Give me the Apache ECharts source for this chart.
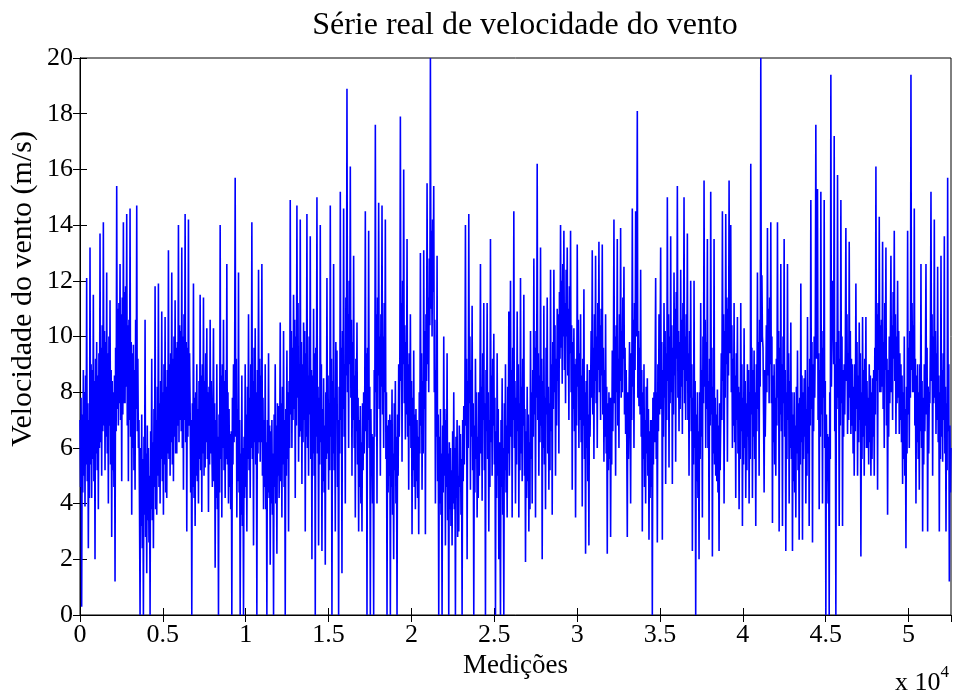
<!DOCTYPE html>
<html>
<head>
<meta charset="utf-8">
<script src="https://cdn.jsdelivr.net/npm/echarts@6/dist/echarts.min.js"></script>
<style>
  html, body { margin: 0; padding: 0; background: #fff; }
  #main { width: 956px; height: 696px; }
</style>
</head>
<body>
<div id="main"></div>
<script>
const chartDom = document.getElementById("main");
const myChart = echarts.init(chartDom);

// total number of measurements (x axis extent)
const X_MAX = 52560;
const xTickStep = 5000;
const Y_MIN = 0;
const Y_MAX = 20;
const yTickStep = 2;

// wind speed (m/s), read off the picture, evenly spaced over the measurements
// (one row = roughly 600 measurements)
const speed = [
    7.0, 4.6, 7.8, 0.3, 7.2, 4.4, 8.8, 5.0, 8.0, 3.9, 8.6, 5.4, 12.1, 4.8, 7.6, 2.4, 7.0, 4.2,
    13.2, 5.4, 9.0, 4.2, 8.8, 5.6, 11.5, 4.8, 8.4, 2.0, 9.2, 5.8, 9.8, 5.2, 8.6, 3.8, 9.4, 6.0,
    13.7, 6.2, 9.6, 5.0, 10.4, 6.6, 14.1, 6.8, 10.2, 5.2, 9.8, 6.4, 12.3, 5.8, 9.4, 4.0, 10.0, 6.8,
    11.3, 5.4, 8.8, 2.8, 8.4, 5.2, 8.0, 4.6, 8.6, 1.2, 9.6, 6.6, 15.4, 7.4, 11.0, 6.8, 11.2, 7.6,
    12.6, 7.0, 10.8, 4.8, 11.4, 7.2, 14.1, 7.6, 11.6, 7.6, 11.8, 8.2, 14.4, 6.8, 10.4, 4.8, 10.6, 7.0,
    14.6, 6.4, 9.8, 3.6, 9.4, 6.0, 9.7, 5.2, 8.8, 4.5, 10.6, 7.4, 14.7, 6.6, 9.2, 6.0, 7.0, 3.8,
    0.0, 6.0, 3.2, 7.2, 2.4, 5.6, 0.0, 6.4, 3.6, 10.6, 2.8, 5.8, 1.5, 6.8, 3.4, 6.0, 2.6, 5.0,
    0.0, 6.6, 3.8, 9.2, 3.4, 6.2, 2.4, 7.4, 4.6, 11.8, 3.8, 7.0, 3.6, 8.2, 5.0, 11.9, 4.6, 7.6,
    4.0, 8.4, 5.6, 10.9, 4.8, 8.0, 3.6, 9.0, 5.4, 10.7, 4.4, 8.2, 4.2, 8.8, 5.8, 13.1, 5.6, 9.0,
    5.0, 9.4, 6.2, 12.3, 5.4, 9.2, 4.8, 10.0, 6.4, 11.3, 5.8, 9.6, 5.8, 9.8, 6.8, 14.0, 6.2, 10.4,
    7.0, 10.2, 6.6, 13.2, 6.0, 10.0, 4.5, 10.8, 7.0, 14.4, 6.2, 9.8, 3.0, 9.6, 6.4, 14.2, 6.8, 9.4,
    7.5, 4.4, 7.0, 0.0, 7.6, 4.6, 11.9, 4.2, 7.8, 3.2, 8.0, 5.0, 9.0, 4.8, 7.4, 4.0, 8.4, 5.6,
    11.5, 5.2, 8.6, 3.7, 9.0, 5.8, 11.4, 5.0, 8.4, 5.3, 9.4, 6.2, 10.3, 5.6, 8.0, 3.7, 8.2, 5.4,
    10.6, 5.8, 8.4, 6.2, 4.6, 7.2, 10.3, 4.8, 7.6, 1.7, 7.0, 4.2, 9.0, 3.8, 6.4, 0.0, 7.2, 4.4,
    14.0, 5.6, 8.6, 3.5, 9.0, 6.0, 10.6, 5.2, 8.4, 4.2, 8.8, 5.6, 12.6, 5.4, 8.0, 4.0, 7.4, 4.6,
    6.5, 3.8, 6.6, 0.0, 7.8, 5.4, 9.0, 6.2, 8.6, 15.7, 6.4, 9.2, 3.5, 7.4, 4.8, 12.3, 4.4, 7.0,
    0.0, 5.8, 3.6, 8.6, 3.2, 6.0, 0.0, 6.4, 4.2, 9.0, 4.6, 7.2, 3.0, 8.2, 5.6, 10.8, 5.2, 7.8,
    4.2, 9.0, 6.0, 14.1, 5.6, 8.4, 2.5, 9.6, 6.2, 10.3, 5.4, 8.0, 0.0, 8.8, 5.8, 12.4, 6.2, 9.2,
    5.5, 8.6, 6.2, 12.6, 5.0, 7.8, 3.8, 7.0, 4.6, 9.0, 3.8, 6.2, 0.0, 7.0, 4.4, 9.4, 4.2, 6.8,
    1.8, 6.6, 4.0, 7.0, 3.6, 5.8, 0.0, 7.2, 4.6, 9.0, 4.0, 6.8, 2.2, 7.6, 5.0, 7.5, 4.2, 6.0,
    10.5, 4.8, 7.6, 3.5, 8.2, 5.4, 10.2, 4.6, 7.0, 0.0, 7.4, 5.0, 9.5, 5.6, 8.0, 3.0, 8.4, 6.0,
    14.9, 7.2, 10.2, 6.0, 9.6, 7.0, 11.5, 7.4, 10.6, 4.2, 10.0, 6.8, 14.7, 7.8, 11.2, 5.5, 9.0, 6.4,
    14.2, 6.6, 9.8, 4.7, 9.0, 6.2, 10.5, 7.0, 10.2, 3.0, 9.4, 6.4, 14.4, 6.0, 8.6, 5.0, 10.0, 7.2,
    13.6, 5.6, 8.8, 2.0, 8.6, 5.8, 11.0, 5.0, 9.4, 0.0, 9.6, 6.4, 15.0, 5.8, 8.2, 2.5, 7.8, 5.4,
    14.0, 6.2, 9.0, 2.3, 7.4, 4.8, 8.5, 4.4, 6.8, 1.8, 8.0, 5.6, 12.1, 5.8, 8.6, 4.5, 7.6, 5.2,
    14.7, 6.4, 9.2, 0.0, 8.4, 5.8, 12.6, 5.2, 7.8, 3.0, 9.8, 7.0, 9.5, 4.6, 7.0, 0.0, 8.2, 5.8,
    15.2, 7.0, 9.6, 1.5, 10.2, 7.4, 14.6, 6.4, 9.0, 4.0, 11.4, 8.6, 18.9, 8.0, 10.8, 6.0, 12.0, 9.0,
    16.1, 7.8, 10.6, 5.0, 9.8, 7.0, 12.9, 6.0, 8.6, 3.5, 9.2, 6.6, 10.5, 5.4, 7.8, 3.0, 7.0, 4.6,
    7.5, 4.0, 6.2, 3.0, 7.6, 5.2, 8.0, 5.8, 8.2, 14.5, 6.6, 9.4, 0.0, 9.6, 7.0, 13.8, 6.0, 8.2,
    0.0, 7.4, 5.0, 6.5, 4.0, 6.4, 0.0, 8.8, 6.4, 17.6, 8.0, 10.8, 4.0, 11.4, 8.6, 14.8, 7.4, 10.0,
    5.0, 10.8, 8.2, 14.7, 7.2, 10.0, 6.0, 11.2, 8.0, 14.2, 5.6, 8.0, 0.0, 6.8, 4.4, 7.0, 5.0, 7.2,
    0.0, 7.0, 4.6, 8.1, 3.6, 5.8, 2.0, 7.6, 5.2, 8.4, 4.0, 6.4, 0.0, 7.2, 5.0, 9.0, 6.4, 8.8,
    17.9, 8.4, 11.2, 5.5, 12.0, 9.0, 16.0, 7.6, 10.4, 6.3, 9.8, 7.2, 13.5, 6.4, 9.0, 4.5, 9.4, 6.8,
    10.8, 6.0, 8.4, 2.9, 7.8, 5.2, 9.5, 4.6, 7.2, 3.8, 7.4, 4.8, 7.0, 4.2, 6.4, 2.9, 8.0, 5.8,
    13.0, 6.8, 9.4, 4.5, 8.4, 5.8, 13.1, 7.4, 10.2, 2.9, 10.8, 8.4, 15.5, 9.0, 11.4, 8.0, 12.8, 10.4,
    20.0, 11.0, 13.8, 10.0, 14.2, 11.6, 15.4, 8.0, 10.6, 4.0, 8.8, 6.4, 12.9, 4.8, 7.2, 0.0, 6.4, 4.0,
    7.4, 3.6, 5.8, 0.0, 6.8, 4.4, 10.0, 5.0, 7.4, 2.5, 7.0, 4.6, 9.4, 3.4, 5.8, 0.0, 6.2, 3.8,
    6.0, 3.2, 5.2, 2.5, 6.6, 4.0, 8.0, 3.8, 6.0, 0.0, 6.4, 4.2, 7.0, 2.8, 5.0, 3.0, 6.8, 4.6,
    6.5, 3.6, 5.6, 0.0, 7.0, 4.8, 7.5, 5.4, 7.8, 14.0, 6.8, 9.2, 2.0, 8.4, 6.0, 14.4, 7.6, 10.0,
    4.5, 8.8, 6.4, 11.1, 5.2, 7.6, 0.0, 6.8, 4.4, 9.2, 5.6, 8.0, 3.5, 6.4, 4.2, 8.0, 5.0, 7.4,
    12.6, 5.8, 8.2, 4.1, 9.4, 7.0, 11.2, 5.2, 7.6, 0.0, 8.8, 6.6, 11.2, 5.6, 8.0, 3.0, 7.0, 4.6,
    13.5, 6.2, 8.6, 5.0, 9.2, 6.8, 10.1, 5.4, 7.8, 0.0, 6.6, 4.2, 9.4, 5.0, 7.4, 2.0, 6.2, 3.8,
    0.0, 7.0, 4.6, 8.5, 3.6, 6.0, 0.0, 7.6, 5.2, 9.0, 4.4, 6.8, 3.5, 8.2, 5.8, 10.9, 5.0, 7.4,
    12.0, 6.4, 8.8, 3.5, 9.6, 7.0, 14.5, 6.0, 8.4, 4.0, 7.8, 5.4, 10.9, 6.6, 9.0, 3.5, 7.6, 5.2,
    12.1, 5.8, 8.2, 4.8, 9.2, 6.8, 11.5, 5.0, 7.4, 1.9, 6.6, 4.2, 8.2, 4.8, 7.2, 3.0, 6.2, 3.8,
    10.2, 5.6, 8.0, 4.0, 8.8, 6.4, 12.8, 7.2, 9.6, 3.5, 10.2, 7.8, 16.2, 7.0, 9.4, 5.0, 8.6, 6.2,
    13.2, 6.8, 9.2, 2.0, 8.4, 6.0, 11.1, 5.4, 7.8, 3.8, 9.6, 7.2, 11.4, 5.8, 8.2, 4.5, 7.6, 5.2,
    12.4, 6.6, 9.0, 3.6, 9.8, 7.4, 12.4, 8.0, 10.4, 5.0, 9.2, 6.8, 11.0, 8.4, 10.8, 5.8, 11.6, 9.2,
    14.0, 9.6, 12.0, 8.3, 12.6, 10.0, 13.8, 8.8, 11.2, 7.6, 12.4, 10.0, 13.2, 8.6, 11.0, 7.0, 11.8, 9.4,
    13.8, 8.0, 10.4, 4.5, 9.8, 7.4, 10.3, 6.6, 9.0, 3.5, 9.2, 6.8, 13.3, 8.2, 10.6, 6.0, 9.4, 7.0,
    10.8, 6.2, 8.6, 3.9, 9.2, 6.8, 11.7, 5.6, 8.0, 2.2, 8.4, 6.0, 9.0, 4.8, 7.2, 2.5, 8.8, 6.4,
    8.0, 10.2, 7.8, 13.1, 7.2, 9.6, 5.6, 10.8, 8.4, 12.9, 7.6, 10.0, 6.0, 11.2, 8.8, 13.4, 8.0, 10.4,
    7.0, 11.0, 8.6, 13.3, 7.2, 9.6, 5.5, 8.8, 6.4, 10.8, 5.8, 8.2, 2.2, 7.6, 5.2, 8.0, 5.6, 7.8,
    2.8, 7.8, 5.4, 9.5, 6.6, 9.0, 14.2, 7.6, 10.0, 5.0, 10.4, 8.0, 13.5, 6.8, 9.2, 6.0, 10.8, 8.4,
    13.9, 7.8, 10.2, 8.0, 11.4, 9.2, 12.5, 7.2, 9.6, 6.5, 8.8, 6.4, 2.8, 8.0, 5.6, 7.5, 9.8, 7.4,
    4.0, 9.4, 7.0, 14.6, 8.2, 10.6, 6.0, 11.2, 8.8, 14.5, 10.0, 12.4, 18.1, 7.8, 10.2, 7.5, 9.6, 7.2,
    12.4, 6.4, 8.8, 3.0, 8.0, 5.6, 9.0, 4.6, 7.0, 4.0, 8.2, 5.8, 8.5, 5.0, 7.4, 2.7, 6.6, 4.2,
    7.0, 4.6, 7.0, 0.0, 7.8, 5.4, 8.0, 6.2, 8.6, 12.1, 5.6, 8.0, 2.6, 9.0, 6.6, 10.8, 7.2, 9.6,
    13.2, 7.4, 9.8, 2.7, 8.8, 6.4, 11.2, 7.8, 10.2, 4.7, 9.4, 7.0, 15.0, 8.4, 10.8, 5.3, 10.0, 7.6,
    13.6, 8.0, 10.4, 4.7, 9.6, 7.2, 12.3, 8.6, 11.0, 5.5, 11.6, 9.2, 15.4, 7.8, 10.2, 6.6, 9.8, 7.4,
    12.4, 8.2, 10.6, 6.5, 11.2, 8.8, 15.0, 7.6, 10.0, 7.0, 10.8, 8.4, 13.7, 7.0, 9.4, 5.0, 10.2, 7.8,
    12.0, 6.6, 9.0, 2.3, 7.8, 5.4, 12.0, 6.0, 8.4, 0.0, 7.2, 4.8, 8.0, 4.2, 6.6, 2.0, 8.0, 5.6,
    11.2, 6.4, 8.8, 3.5, 10.0, 7.6, 15.6, 8.2, 10.6, 6.0, 9.8, 7.4, 13.5, 6.0, 8.4, 2.7, 9.2, 6.8,
    15.2, 7.2, 9.6, 2.1, 8.2, 5.8, 13.5, 5.4, 7.8, 5.0, 7.2, 4.8, 8.1, 4.4, 6.8, 2.3, 7.6, 5.2,
    7.0, 9.4, 7.0, 14.5, 8.4, 10.8, 4.0, 10.2, 7.8, 14.4, 9.0, 11.4, 5.5, 11.0, 8.6, 15.6, 9.4, 11.8,
    14.0, 8.0, 10.4, 6.0, 9.2, 6.8, 11.2, 6.2, 8.6, 4.2, 9.4, 7.0, 10.7, 5.8, 8.2, 3.8, 8.0, 5.6,
    11.2, 6.6, 9.0, 3.2, 7.8, 5.4, 10.3, 6.0, 8.4, 4.2, 7.6, 5.2, 9.0, 6.4, 8.8, 4.0, 8.0, 5.6,
    16.2, 7.2, 9.6, 4.2, 8.8, 6.4, 9.5, 5.6, 8.0, 3.2, 9.0, 6.6, 12.3, 7.4, 9.8, 5.0, 10.6, 8.2,
    20.0, 9.8, 12.2, 10.0, 9.6, 7.2, 4.4, 8.8, 6.4, 8.0, 10.4, 8.0, 13.9, 8.6, 11.0, 7.6, 11.4, 9.0,
    14.1, 7.6, 10.0, 3.3, 8.6, 6.2, 9.0, 5.4, 7.8, 5.0, 9.2, 6.8, 14.1, 7.8, 10.2, 3.0, 9.6, 7.2,
    12.6, 6.6, 9.0, 3.2, 10.0, 7.6, 13.5, 6.4, 8.8, 2.3, 8.0, 5.6, 12.6, 7.0, 9.4, 4.0, 8.4, 6.0,
    10.5, 5.6, 8.0, 2.3, 7.2, 4.8, 8.0, 4.4, 6.8, 3.5, 8.2, 5.8, 9.5, 5.2, 7.6, 2.7, 7.8, 5.4,
    11.9, 6.2, 8.6, 2.7, 8.0, 5.6, 8.5, 6.4, 8.8, 4.0, 7.4, 5.0, 10.7, 5.8, 8.2, 3.2, 9.2, 6.8,
    14.9, 7.4, 9.8, 2.6, 9.0, 6.6, 10.0, 7.8, 10.2, 17.6, 9.2, 11.6, 15.3, 7.0, 9.4, 3.8, 8.8, 6.4,
    15.2, 7.2, 9.6, 4.0, 10.2, 7.8, 14.9, 6.0, 8.4, 0.0, 7.2, 4.8, 6.5, 4.0, 6.4, 0.0, 8.0, 5.6,
    19.4, 8.2, 10.6, 12.0, 11.4, 9.0, 17.2, 6.6, 9.0, 0.0, 9.8, 7.4, 15.8, 7.8, 10.2, 3.2, 9.2, 6.8,
    14.9, 7.6, 10.0, 3.2, 8.8, 6.4, 9.0, 7.2, 9.6, 13.9, 8.4, 10.8, 6.5, 9.4, 7.0, 13.4, 7.8, 10.2,
    6.5, 9.2, 6.8, 9.0, 5.8, 8.2, 5.0, 9.0, 6.6, 11.9, 7.4, 9.8, 5.0, 8.6, 6.2, 10.5, 7.0, 9.4,
    2.1, 8.0, 5.6, 10.7, 6.4, 8.8, 5.0, 9.2, 6.8, 10.7, 6.0, 8.4, 6.0, 7.8, 5.4, 9.0, 6.2, 8.6,
    5.0, 8.0, 5.6, 8.5, 6.4, 8.8, 5.0, 9.6, 7.2, 16.1, 8.4, 10.8, 4.5, 11.2, 8.8, 14.3, 8.0, 10.4,
    8.0, 10.6, 8.2, 13.4, 7.4, 9.8, 6.0, 11.2, 8.8, 13.2, 6.8, 9.2, 3.6, 8.8, 6.4, 10.0, 7.6, 10.0,
    12.9, 8.0, 10.4, 7.0, 11.6, 9.2, 13.8, 8.4, 10.8, 6.5, 10.0, 7.6, 12.0, 7.8, 10.2, 6.5, 9.4, 7.0,
    9.0, 6.2, 8.6, 4.7, 8.0, 5.6, 10.0, 5.0, 7.4, 2.4, 8.2, 5.8, 13.8, 7.2, 9.6, 6.0, 10.2, 7.8,
    19.4, 8.8, 11.2, 8.0, 10.4, 8.0, 14.6, 6.8, 9.2, 4.0, 8.6, 6.2, 9.0, 5.6, 8.0, 4.5, 9.0, 6.6,
    12.6, 6.0, 8.4, 3.0, 7.8, 5.4, 9.0, 6.6, 9.0, 12.6, 7.2, 9.6, 3.0, 8.2, 5.8, 8.0, 7.6, 10.0,
    15.2, 8.4, 10.8, 5.0, 10.0, 7.6, 14.2, 7.8, 10.2, 6.5, 9.4, 7.0, 12.5, 6.2, 8.6, 3.0, 8.0, 5.6,
    12.9, 6.4, 8.8, 5.5, 9.4, 7.0, 13.6, 5.8, 8.2, 3.0, 7.6, 5.2, 15.7, 6.6, 9.0, 1.2, 6.8, 4.4,
    6.0
];

const step = X_MAX / (speed.length - 1);
const seriesData = speed.map((v, i) => [i * step, v]);

const FONT = "'Liberation Serif', 'DejaVu Serif', serif";
const axisLineStyle = { color: "#000", width: 1 };

const option = {
    animation: false,
    backgroundColor: "#fff",
    title: {
        text: "Série real de velocidade do vento",
        left: 520,
        top: 5,
        textAlign: "center",
        textStyle: {
            fontFamily: FONT,
            fontSize: 32,
            fontWeight: "normal",
            color: "#000",
        },
    },
    grid: {
        left: 80,
        right: 5,
        top: 58,
        bottom: 81,
        show: true,
        borderColor: "#000",
        borderWidth: 1,
        backgroundColor: "#fff",
    },
    xAxis: [
        {
            type: "value",
            min: 0,
            max: X_MAX,
            interval: xTickStep,
            position: "bottom",
            name: "Medições",
            nameLocation: "middle",
            nameGap: 37,
            nameTextStyle: { fontFamily: FONT, fontSize: 27, color: "#000" },
            axisLine: { show: true, lineStyle: axisLineStyle },
            axisTick: { show: true, inside: true, length: 7, lineStyle: axisLineStyle },
            axisLabel: {
                fontFamily: FONT,
                fontSize: 26,
                color: "#000",
                margin: 7,
                showMaxLabel: false,
                formatter: (v) => String(v / 1e4),
            },
            splitLine: { show: false },
        },
        {
            type: "value",
            min: 0,
            max: X_MAX,
            interval: xTickStep,
            position: "top",
            axisLine: { show: true, lineStyle: axisLineStyle },
            axisTick: { show: true, inside: true, length: 7, lineStyle: axisLineStyle },
            axisLabel: { show: false },
            splitLine: { show: false },
        },
    ],
    yAxis: [
        {
            type: "value",
            min: Y_MIN,
            max: Y_MAX,
            interval: yTickStep,
            position: "left",
            axisLine: { show: true, lineStyle: axisLineStyle },
            axisTick: { show: true, inside: true, length: 7, lineStyle: axisLineStyle },
            axisLabel: { fontFamily: FONT, fontSize: 26, color: "#000", margin: 7 },
            splitLine: { show: false },
        },
        {
            type: "value",
            min: Y_MIN,
            max: Y_MAX,
            interval: yTickStep,
            position: "right",
            axisLine: { show: true, lineStyle: axisLineStyle },
            axisTick: { show: true, inside: true, length: 7, lineStyle: axisLineStyle },
            axisLabel: { show: false },
            splitLine: { show: false },
        },
    ],
    graphic: [
        {
            // y axis title (sits a bit above the plot centre in the original)
            type: "text",
            x: 23,
            y: 289,
            rotation: Math.PI / 2,
            style: {
                text: "Velocidade do vento (m/s)",
                font: "30px " + FONT,
                fill: "#000",
                textAlign: "center",
                textVerticalAlign: "middle",
            },
        },
        {
            type: "text",
            left: 895,
            top: 664,
            style: {
                text: "{b|x 10}{s|4}",
                rich: {
                    b: { fontFamily: FONT, fontSize: 26, fill: "#000", verticalAlign: "bottom", lineHeight: 32 },
                    s: { fontFamily: FONT, fontSize: 17, fill: "#000", verticalAlign: "top", lineHeight: 32, padding: [0, 0, 14, 0] },
                },
            },
        },
    ],
    series: [
        {
            type: "line",
            data: seriesData,
            xAxisIndex: 0,
            yAxisIndex: 0,
            showSymbol: false,
            symbol: "none",
            lineStyle: { color: "#0000ff", width: 1.6 },
            clip: true,
            z: 2,
        },
    ],
};

myChart.setOption(option);
</script>
</body>
</html>
